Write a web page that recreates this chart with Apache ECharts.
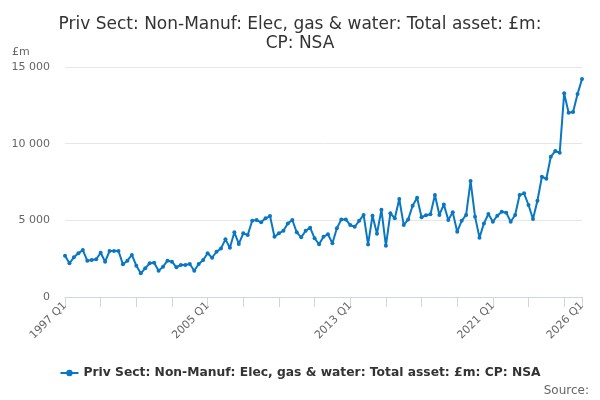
<!DOCTYPE html>
<html>
<head>
<meta charset="utf-8">
<script src="https://cdn.jsdelivr.net/npm/echarts@6/dist/echarts.min.js"></script>
<style>
  html, body { margin: 0; padding: 0; background: #fff; }
  #chart { width: 600px; height: 400px; }
</style>
</head>
<body>
<div id="chart"></div>
<script>
// quarters 1997 Q1 .. 2026 Q1
const quarters = [];
for (let y = 1997; y <= 2026; y++) {
  for (let q = 1; q <= 4; q++) {
    if (y === 2026 && q > 1) break;
    quarters.push(y + ' Q' + q);
  }
}

const totalAsset = [
  2690, 2200, 2590, 2850, 3060, 2370, 2410, 2460, 2890, 2300,
  3000, 3000, 3000, 2130, 2370, 2740, 2040, 1550, 1870, 2200,
  2240, 1710, 1980, 2370, 2300, 1940, 2090, 2090, 2150, 1710,
  2150, 2410, 2850, 2560, 2950, 3170, 3760, 3210, 4220, 3460,
  4150, 4040, 4970, 5020, 4870, 5130, 5280, 3930, 4150, 4320,
  4800, 5020, 4220, 3890, 4320, 4520, 3830, 3440, 3930, 4090,
  3500, 4480, 5060, 5060, 4690, 4580, 4970, 5350, 3430, 5300,
  4130, 5690, 3340, 5460, 5130, 6390, 4690, 5060, 5950, 6470,
  5200, 5330, 5390, 6650, 5350, 6040, 5020, 5520, 4260, 4970,
  5350, 7560, 5240, 3870, 4800, 5410, 4910, 5300, 5560, 5500,
  4910, 5350, 6650, 6760, 6000, 5090, 6280, 7840, 7710, 9150,
  9520, 9410, 13280, 12020, 12060, 13240, 14210
];

const seriesName = 'Priv Sect: Non-Manuf: Elec, gas & water: Total asset: £m: CP: NSA';
const lastIdx = quarters.length - 1;

const chart = echarts.init(document.getElementById('chart'));
chart.setOption({
  animation: false,
  title: {
    text: 'Priv Sect: Non-Manuf: Elec, gas & water: Total asset: £m:\nCP: NSA',
    left: 'center',
    top: 10,
    textStyle: { fontFamily: 'DejaVu Sans', fontSize: 17, fontWeight: 'normal', color: '#333', lineHeight: 19 }
  },
  grid: { left: 65, right: 18, top: 67, bottom: 103 },
  xAxis: {
    type: 'category',
    data: quarters,
    boundaryGap: false,
    axisLine: { lineStyle: { color: '#ccd6eb' } },
    axisTick: {
      length: 10,
      lineStyle: { color: '#ccd6eb' },
      interval: (i) => i % 8 === 0 || i === lastIdx
    },
    axisLabel: {
      rotate: 45,
      color: '#666',
      fontFamily: 'DejaVu Sans',
      fontSize: 11,
      margin: 7,
      interval: (i) => i % 32 === 0 || i === lastIdx
    },
    splitLine: { show: false }
  },
  yAxis: {
    type: 'value',
    min: 0,
    max: 15000,
    interval: 5000,
    name: '£m',
    nameLocation: 'end',
    nameGap: 9,
    nameTextStyle: { color: '#666', fontFamily: 'DejaVu Sans', fontSize: 11, align: 'left', padding: [0, 0, 0, -53] },
    axisLine: { show: false },
    axisTick: { show: false },
    axisLabel: {
      color: '#666',
      fontFamily: 'DejaVu Sans',
      fontSize: 11,
      margin: 15,
      formatter: (v) => String(v).replace(/\B(?=(\d{3})+(?!\d))/g, ' ')
    },
    splitLine: { lineStyle: { color: '#e6e6e6' } }
  },
  legend: {
    bottom: 16,
    left: 'center',
    itemWidth: 18,
    itemHeight: 8,
    itemGap: 5,
    textStyle: { fontFamily: 'DejaVu Sans', fontSize: 12.3, fontWeight: 'bold', color: '#333' },
    data: [seriesName]
  },
  graphic: [{
    type: 'text',
    right: 11,
    bottom: 3,
    style: { text: 'Source:', fill: '#666', font: '12px "DejaVu Sans"' }
  }],
  series: [{
    name: seriesName,
    type: 'line',
    data: totalAsset,
    color: '#0a77c2',
    symbol: 'circle',
    symbolSize: 4,
    showAllSymbol: true,
    lineStyle: { width: 2 }
  }]
});
</script>
</body>
</html>
